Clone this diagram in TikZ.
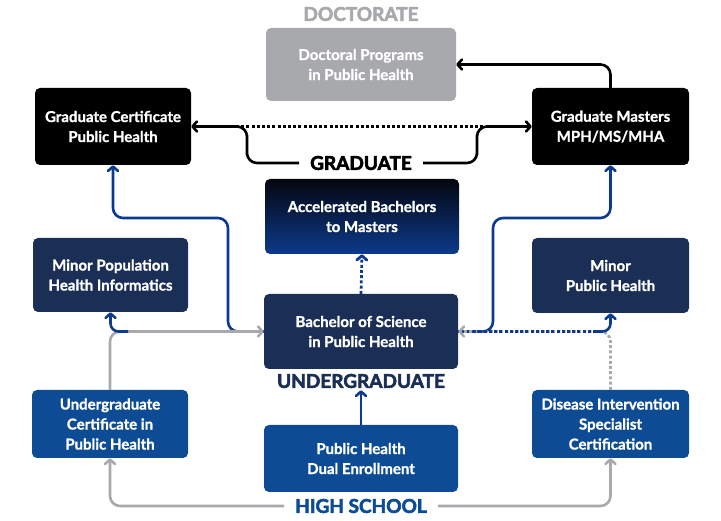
\documentclass[tikz,border=0pt]{standalone}
\usepackage{fontspec}
\setmainfont{Lato}[BoldFeatures={FakeBold=1.2}]
\newfontfamily\heavyfont{Lato}[UprightFeatures={FakeBold=3}, BoldFeatures={FakeBold=3}]
\usetikzlibrary{arrows.meta}
\definecolor{navy}{HTML}{1B2F56}
\definecolor{midblue}{HTML}{0D4C94}
\definecolor{lineblue}{HTML}{0C3A8F}
\definecolor{greyc}{HTML}{A7A9AC}
\definecolor{accTop}{HTML}{04060E}
\definecolor{accBot}{HTML}{0C3A8C}
\tikzset{
  box/.style={rounded corners=5pt, text=white, align=center, font=\fontsize{15}{20}\selectfont\bfseries, inner sep=0pt},
  hdr/.style={font=\fontsize{19}{20}\selectfont\heavyfont\bfseries, inner ysep=2pt, inner xsep=11pt},
  conn/.style={line width=2.6pt, rounded corners=10pt},
  tip/.style={-{Straight Barb[length=4.5pt,width=10pt,line cap=round,line join=round]}},
  dots/.style={dash pattern=on 3pt off 2.2pt},
}
\begin{document}
\begin{tikzpicture}[x=1pt,y=-1pt]
\useasboundingbox (0,0) rectangle (721,521);
% boxes
\node[box, fill=greyc, minimum width=190pt, minimum height=73pt] (doc) at (361,64.5) {Doctoral Programs\\in Public Health};
\node[box, fill=black, minimum width=156pt, minimum height=77pt] (gc) at (113,126.5) {Graduate Certificate\\Public Health};
\node[box, fill=black, minimum width=157pt, minimum height=77pt] (gm) at (610.5,126.5) {Graduate Masters\\MPH/MS/MHA};
\node[box, top color=accTop, bottom color=accBot, minimum width=194pt, minimum height=75pt] (acc) at (362,216.5) {Accelerated Bachelors\\to Masters};
\node[box, fill=navy, minimum width=155pt, minimum height=74pt] (mphi) at (110.5,275) {Minor Population\\Health Informatics};
\node[box, fill=navy, minimum width=157pt, minimum height=75pt] (mph) at (610.5,275.5) {Minor\\Public Health};
\node[box, fill=navy, minimum width=194pt, minimum height=75pt] (bs) at (361,331.5) {Bachelor of Science\\in Public Health};
\node[box, fill=midblue, minimum width=156pt, minimum height=68pt] (uc) at (110,424) {Undergraduate\\Certificate in\\Public Health};
\node[box, fill=midblue, minimum width=194pt, minimum height=67pt] (de) at (361,458.5) {Public Health\\Dual Enrollment};
\node[box, fill=midblue, minimum width=157pt, minimum height=68pt] (dis) at (610.5,424) {Disease Intervention\\Specialist\\Certification};
% level labels
\node[hdr, text=greyc] (doclab) at (361,14) {DOCTORATE};
\node[hdr, text=black] (grad) at (361,163) {GRADUATE};
\node[hdr, text=navy] (ug) at (361,381) {UNDERGRADUATE};
\node[hdr, text=midblue] (hs) at (361,506) {HIGH SCHOOL};
% helper coordinates
\coordinate (gl) at (247,145);
\coordinate (gr) at (477,145);
\coordinate (dl) at (236,127);
\coordinate (dr) at (486,127);
\coordinate (bl1) at (228,218);
\coordinate (br1) at (493,218);
\coordinate (jl) at (128,331.5);
\coordinate (jr) at (596,331.5);
\coordinate (jr2) at (472,331.5);
% black connectors
\draw[conn, tip] (gm.north) |- (doc.east);
\draw[conn, tip] (grad.west) -| (gl) |- (gc.east);
\draw[conn, tip] (grad.east) -| (gr) |- (gm.west);
\draw[line width=3pt, dots] (dl) -- (dr);
% blue connectors
\draw[conn, lineblue, tip] (bs.west) -| (bl1) -| (gc.south);
\draw[conn, lineblue, tip] (bs.east) -| (br1) -| (gm.south);
\draw[line width=2.8pt, lineblue, dots, tip] (bs.north) -- (acc.south);
\draw[line width=2.6pt, lineblue, tip] (de.north) -- (ug.south);
% grey connectors
\draw[conn, greyc, tip] (hs.west) -| (uc.south);
\draw[conn, greyc, tip] (hs.east) -| (dis.south);
\draw[conn, greyc, tip] (uc.north) |- (bs.west);
\draw[conn, greyc, dots, tip] (dis.north) |- (bs.east);
% navy overlays
\draw[conn, lineblue, rounded corners=8pt, tip] (jl) -| (mphi.south);
\draw[line width=2.8pt, lineblue, dots] (jr) -- (jr2);
\draw[conn, lineblue, rounded corners=8pt, tip] (jr) -| (mph.south);
\end{tikzpicture}
\end{document}
